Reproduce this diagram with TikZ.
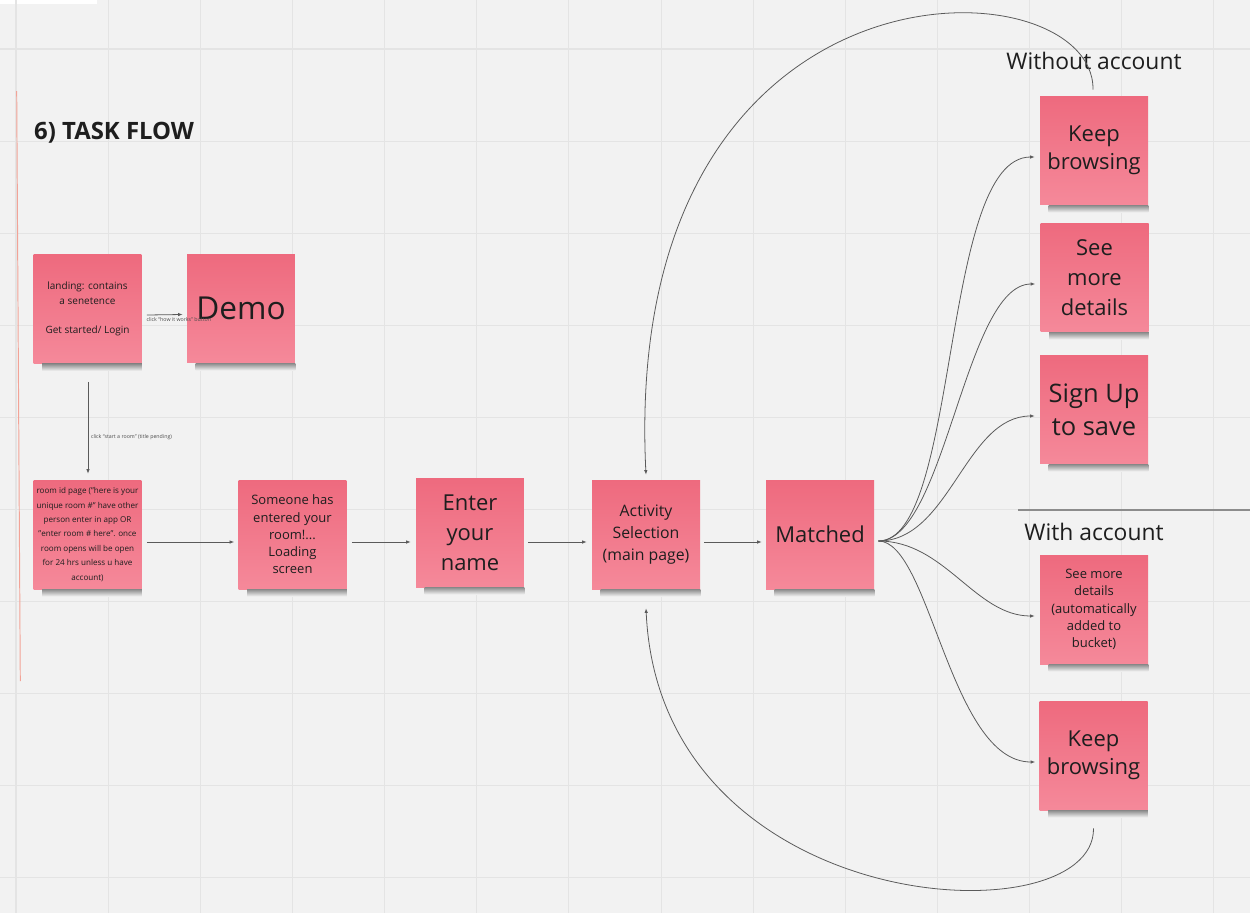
\documentclass[tikz,border=0pt]{standalone}
\usepackage{fontspec}
\setmainfont{Open Sans}
\usetikzlibrary{arrows.meta,calc}
\definecolor{paper}{HTML}{F2F2F2}
\definecolor{gridc}{HTML}{E4E4E4}
\definecolor{notetop}{HTML}{EE6A7E}
\definecolor{notebot}{HTML}{F5899A}
\definecolor{ink}{HTML}{1E1E1E}
\definecolor{wire}{HTML}{5A5A5A}
\definecolor{redline}{HTML}{F2A397}
\begin{document}
\begin{tikzpicture}[x=0.02cm,y=-0.02cm,
	note/.style={minimum width=2.16cm,minimum height=2.18cm,inner sep=0pt,top color=notetop,bottom color=notebot,align=center,text=ink},
	flow/.style={-{Latex[length=2.6pt,width=2pt]},draw=wire,line width=0.45pt},
	tiny/.style={font=\fontsize{3}{3.6}\selectfont,text=ink!80,inner sep=0.5pt}]
	\useasboundingbox (0,0) rectangle (1250,913);
	\fill[paper] (0,0) rectangle (1250,913);
	\fill[white] (0,0) rectangle (97,4);
	\foreach \i in {0,...,13} \draw[gridc,line width=0.6pt] (16+92.15*\i,0) -- (16+92.15*\i,913);
	\foreach \j in {0,...,9} \draw[gridc,line width=0.6pt] (0,49+92.1*\j) -- (1250,49+92.1*\j);
	\draw[redline,line width=0.55pt] (16.7,91) -- (20.3,681);
	\draw[black!45,line width=0.7pt] (1018,510) -- (1250,510);
	\node[anchor=west,text=ink,font=\fontsize{13.6}{16}\selectfont\bfseries] (title) at (28,133) {6) TASK FLOW};
	\node[text=ink,font=\fontsize{13}{15}\selectfont] (without) at (1094,61) {Without account};
	\node[text=ink,font=\fontsize{13}{15}\selectfont] (with) at (1094,532) {With account};
	\node[note,font=\fontsize{5.7}{8.4}\selectfont] (landing) at (87.5,309) {landing: contains\\a senetence\\[8.4pt]Get started/ Login};
	\node[note,font=\fontsize{18}{20}\selectfont] (demo) at (241,308.5) {Demo};
	\node[note,font=\fontsize{4.6}{8.2}\selectfont] (roomid) at (87.5,534.5) {room id page ("here is your\\unique room \#" have other\\person enter in app OR\\"enter room \# here". once\\room opens will be open\\for 24 hrs unless u have\\account)};
	\node[note,font=\fontsize{7.4}{9.8}\selectfont] (someone) at (292.5,534.5) {Someone has\\entered your\\room!...\\Loading\\screen};
	\node[note,font=\fontsize{12.5}{17}\selectfont] (enter) at (470,532.5) {Enter\\your\\name};
	\node[note,font=\fontsize{9}{12.5}\selectfont] (activity) at (646,534.5) {Activity\\Selection\\(main page)};
	\node[note,font=\fontsize{12.5}{17}\selectfont] (matched) at (820,534.5) {Matched};
	\node[note,font=\fontsize{12.5}{16}\selectfont] (keeptop) at (1094,150.5) {Keep\\browsing};
	\node[note,font=\fontsize{12.5}{17}\selectfont] (seemore) at (1094.5,277.5) {See\\more\\details};
	\node[note,font=\fontsize{14.5}{18.7}\selectfont] (signup) at (1094,409.5) {Sign Up\\to save};
	\node[note,font=\fontsize{7.4}{9.9}\selectfont] (seeauto) at (1094,609.5) {See more\\details\\(automatically\\added to\\bucket)};
	\node[note,font=\fontsize{12.5}{16}\selectfont] (keepbot) at (1093.5,755.5) {Keep\\browsing};
	\foreach \n in {landing,demo,roomid,someone,enter,activity,matched,keeptop,seemore,signup,seeauto,keepbot}
		\shade[top color=black!45,bottom color=paper] ($(\n.south west)+(9,0)$) rectangle ($(\n.south east)+(0,7)$);
	\draw[flow] ($(landing.east)+(5,6)$) -- node[tiny,below=1pt,xshift=8] (howlbl) {click “how it works” button} ($(demo.west)+(-4,6)$);
	\draw[flow] ($(landing.south)+(0.5,18)$) -- node[tiny,right=1pt,pos=0.6] (startlbl) {click “start a room” (title pending)} ($(roomid.north)+(0.5,-6)$);
	\draw[flow] ($(roomid.east)+(5,7.5)$) -- ($(someone.west)+(-4,7.5)$);
	\draw[flow] ($(someone.east)+(5,7.5)$) -- ($(enter.west)+(-5,9.5)$);
	\draw[flow] ($(enter.east)+(4,9.5)$) -- ($(activity.west)+(-5,7.5)$);
	\draw[flow] ($(activity.east)+(4,7.5)$) -- ($(matched.west)+(-4,7.5)$);
	\coordinate (fan) at ($(matched.east)+(4,6.5)$);
	\draw[flow] (fan) .. controls (960,541) and (940,157) .. ($(keeptop.west)+(-5,6.5)$);
	\draw[flow] (fan) .. controls (945,541) and (965,284) .. ($(seemore.west)+(-5,6.5)$);
	\draw[flow] (fan) .. controls (950,541) and (965,416) .. ($(signup.west)+(-5,6.5)$);
	\draw[flow] (fan) .. controls (945,541) and (975,616) .. ($(seeauto.west)+(-5,6.5)$);
	\draw[flow] (fan) .. controls (930,541) and (950,762) .. ($(keepbot.west)+(-4,6.5)$);
	\draw[flow] ($(keeptop.north)+(-1,-6)$) .. controls (1095,-40) and (620,-60) .. ($(activity.north)+(0,-5)$);
	\draw[flow] ($(keepbot.south)+(0,18)$) .. controls (1095,940) and (660,920) .. ($(activity.south)+(0,19)$);
\end{tikzpicture}
\end{document}
